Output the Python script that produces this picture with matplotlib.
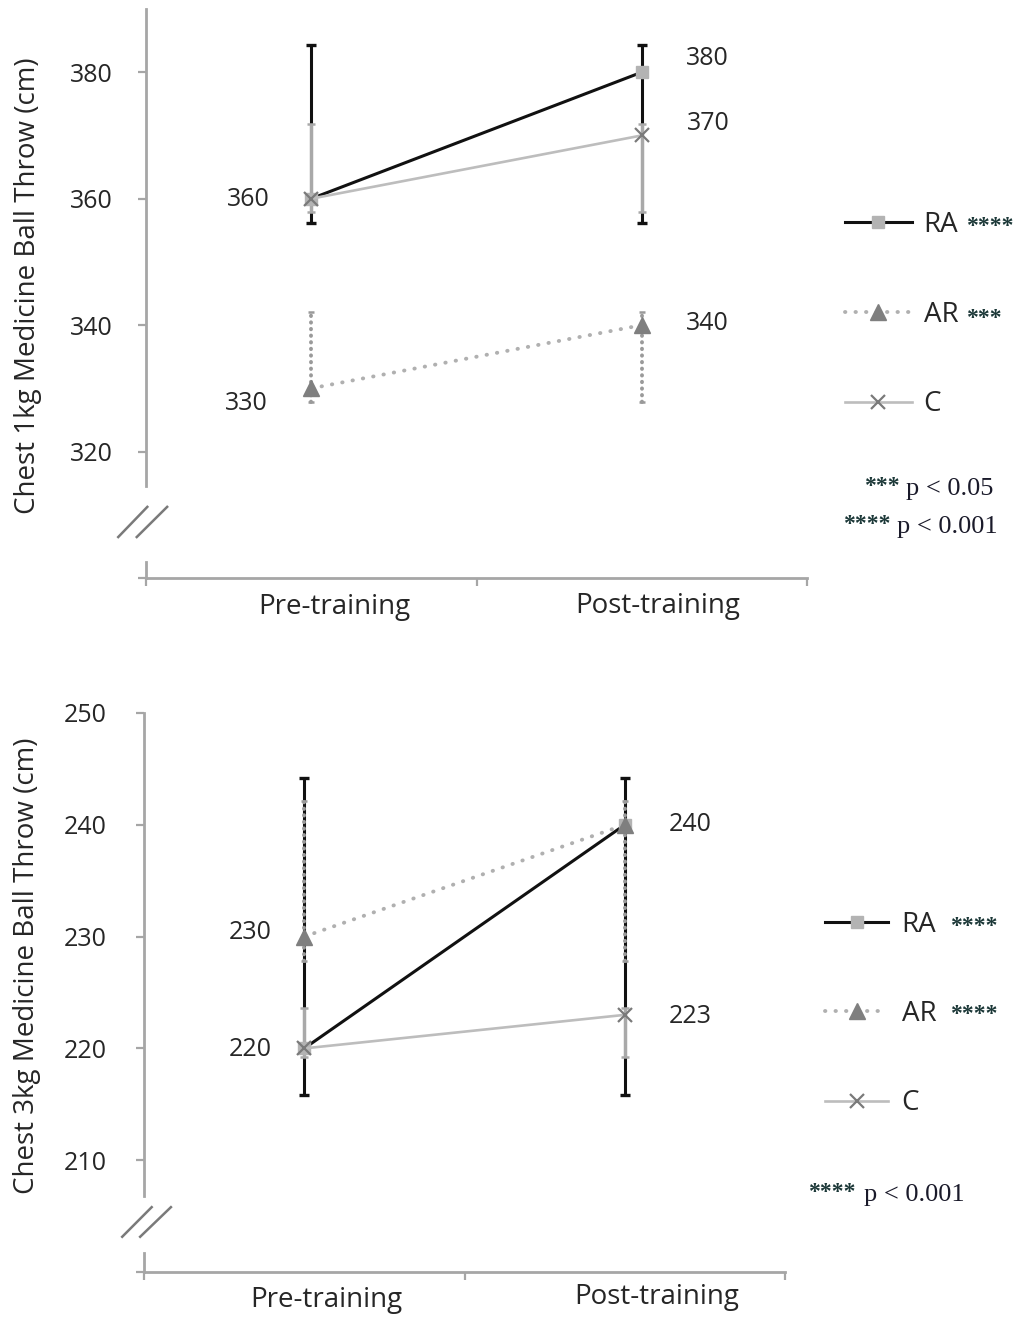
import numpy as np
import matplotlib
matplotlib.use('Agg')
import matplotlib.pyplot as plt

plt.rcParams['font.family'] = ['Open Sans', 'DejaVu Sans']

groups = ['Pre-training', 'Post-training']
series = ['RA', 'AR', 'C']

# chest 1kg
top_ra = [360, 380]
top_ar = [330, 340]
top_c = [360, 370]
top_ra_lo = [356.2, 356.2]
top_ra_hi = [384.3, 384.3]
top_ar_lo = [327.8, 327.8]
top_ar_hi = [342.1, 342.1]
top_c_lo = [357.9, 357.9]
top_c_hi = [371.8, 371.8]
top_yticks = [300, 320, 340, 360, 380]
top_yticklabels = ['', '320', '340', '360', '380']
top_labels = [(0, 360), (0, 330), (1, 380), (1, 370), (1, 340)]
top_stars = ['****', '***', '']

# chest 3kg
bot_ra = [220, 240]
bot_ar = [230, 240]
bot_c = [220, 223]
bot_ra_lo = [215.8, 215.8]
bot_ra_hi = [244.2, 244.2]
bot_ar_lo = [227.8, 227.8]
bot_ar_hi = [242.1, 242.1]
bot_c_lo = [219.2, 219.2]
bot_c_hi = [223.6, 223.6]
bot_yticks = [200, 210, 220, 230, 240, 250]
bot_yticklabels = ['', '210', '220', '230', '240', '250']
bot_labels = [(0, 230), (0, 220), (1, 240), (1, 223)]
bot_stars = ['****', '****', '']

W, H = 1018, 1317
AX_COL = '#a6a6a6'
TXT = '#262626'
STAR_COL = '#1c3838'
FS = 18
FS_BIG = 20
DOT = (0, (0.1, 2.6))

fig = plt.figure(figsize=(W / 100, H / 100), dpi=100)


def px_axes(l, t, r, b):
    return fig.add_axes([l / W, 1 - b / H, (r - l) / W, (b - t) / H])


def draw_panel(ax, ra, ar, c, ra_lo, ra_hi, ar_lo, ar_hi, c_lo, c_hi,
               ylim, yticks, yticklabels, break_top, break_bot,
               labels, label_off, ypad, slash, xlab_off):
    x = np.arange(len(groups))
    ra, ar, c = np.array(ra), np.array(ar), np.array(c)

    # error bars
    ax.errorbar(x, ra, yerr=[ra - np.array(ra_lo), np.array(ra_hi) - ra],
                fmt='none', ecolor='#111111', elinewidth=2.2, capsize=3.6,
                capthick=2.4, zorder=2)
    ax.errorbar(x, c, yerr=[c - np.array(c_lo), np.array(c_hi) - c],
                fmt='none', ecolor='#a9a9a9', elinewidth=2.4, capsize=2.8,
                capthick=1.8, zorder=3)
    e = ax.errorbar(x, ar, yerr=[ar - np.array(ar_lo), np.array(ar_hi) - ar],
                    fmt='none', ecolor='#9a9a9a', elinewidth=2.8, capsize=2.2,
                    capthick=1.8, zorder=3)
    e[2][0].set_linestyle((0, (0.1, 1.6)))
    e[2][0].set_capstyle('round')

    # lines
    ax.plot(x, ra, color='#111111', lw=2.2, zorder=4, label='RA',
            marker='s', ms=8, mfc='#b3b3b3', mec='#b3b3b3')
    ax.plot(x, ar, color='#b0b0b0', lw=2.8, ls=DOT,
            dash_capstyle='round', zorder=4, label='AR',
            marker='^', ms=11, mfc='#7f7f7f', mec='#7f7f7f')
    ax.plot(x, c, color='#bdbdbd', lw=1.9, zorder=4, label='C',
            marker='x', ms=10, mew=1.6, mec='#7a7a7a')

    for (i, v), (dx, dy) in zip(labels, label_off):
        ax.annotate(str(v), xy=(i, v), xytext=(dx, dy),
                    textcoords='offset pixels', ha='center', va='center',
                    fontsize=FS, color=TXT)

    ax.set_xlim(-0.5, 1.5)
    ax.set_ylim(*ylim)
    ax.set_yticks(yticks)
    ax.set_yticklabels(yticklabels)
    ax.set_xticks(x)
    ax.set_xticklabels([])
    for i, (g, (dx, dy)) in enumerate(zip(groups, xlab_off)):
        ax.annotate(g, xy=(i, 0), xycoords=('data', 'axes fraction'),
                    xytext=(dx, dy), textcoords='offset pixels',
                    ha='center', va='center', fontsize=FS_BIG, color=TXT)
    ax.set_xticks([-0.5, 0.5, 1.5], minor=True)
    ax.tick_params(axis='x', which='major', length=0)
    ax.tick_params(axis='x', which='minor', length=6, width=1.6,
                   color=AX_COL, direction='out')
    ax.tick_params(axis='y', length=6, width=1.6, color=AX_COL, pad=ypad,
                   labelsize=FS, labelcolor=TXT)
    for s in ['top', 'right']:
        ax.spines[s].set_visible(False)
    ax.spines['bottom'].set_color(AX_COL)
    ax.spines['bottom'].set_linewidth(2)
    ax.spines['left'].set_color(AX_COL)
    ax.spines['left'].set_linewidth(2)
    ax.spines['left'].set_bounds(break_top, ylim[1])
    ax.plot([-0.5, -0.5], [ylim[0], break_bot], color=AX_COL, lw=2,
            clip_on=False, zorder=1)
    # axis break marks
    for (x0, x1) in slash[0]:
        ax.plot([x0, x1], slash[1], transform=ax.transAxes, color='#7a7a7a',
                lw=1.8, clip_on=False)


ax1 = px_axes(146, 9, 807, 578)
draw_panel(ax1, top_ra, top_ar, top_c, top_ra_lo, top_ra_hi, top_ar_lo,
           top_ar_hi, top_c_lo, top_c_hi, (300, 390), top_yticks,
           top_yticklabels, 314.6, 302.5, top_labels,
           [(-63, -1), (-65, -15), (66, 14), (67, 12), (66, 2)], 18,
           ([(-0.042, 0.002), (-0.014, 0.032)], [0.072, 0.125]),
           [(23, -29), (16, -28)])
ax1.set_ylabel('Chest 1kg Medicine Ball Throw (cm)', fontsize=FS_BIG,
               color=TXT)
ax1.yaxis.set_label_coords(-0.158, 0.513)

ax2 = px_axes(144, 713, 785, 1272)
draw_panel(ax2, bot_ra, bot_ar, bot_c, bot_ra_lo, bot_ra_hi, bot_ar_lo,
           bot_ar_hi, bot_c_lo, bot_c_hi, (200, 250), bot_yticks,
           bot_yticklabels, 206.8, 201.7, bot_labels,
           [(-54, 4), (-54, -1), (65, 0), (65, -2)], 21,
           ([(-0.034, 0.012), (-0.006, 0.042)], [0.063, 0.116]),
           [(22, -28), (32, -25)])
ax2.set_ylabel('Chest 3kg Medicine Ball Throw (cm)', fontsize=FS_BIG,
               color=TXT)
ax2.yaxis.set_label_coords(-0.160, 0.547)

# legends
fig.legend(*ax1.get_legend_handles_labels(), loc='upper left',
           bbox_to_anchor=(845 / W, 1 - 211 / H), frameon=False,
           fontsize=FS_BIG, handlelength=2.41, handletextpad=0.42,
           labelspacing=2.22, borderpad=0, borderaxespad=0, numpoints=1,
           labelcolor=TXT)
fig.legend(*ax2.get_legend_handles_labels(), loc='upper left',
           bbox_to_anchor=(825 / W, 1 - 911 / H), frameon=False,
           fontsize=FS_BIG, handlelength=2.27, handletextpad=0.49,
           labelspacing=2.2, borderpad=0, borderaxespad=0, numpoints=1,
           labelcolor=TXT)

star_kw = dict(family='Liberation Serif', fontweight='bold', fontsize=17,
               color=STAR_COL, va='center', ha='left')
note_kw = dict(family='Liberation Serif', fontsize=19, color='#1a1a2a',
               va='baseline', ha='left')

for s, y in zip(top_stars, [221, 313, 402]):
    fig.text(966 / W, 1 - (y + 5) / H, s, **star_kw)
for s, y in zip(bot_stars, [921, 1010, 1097]):
    fig.text(950 / W, 1 - (y + 5) / H, s, **star_kw)

fig.text(864 / W, 1 - 486 / H, '***', **star_kw)
fig.text(906 / W, 1 - 495 / H, 'p < 0.05', **note_kw)
fig.text(843 / W, 1 - 524 / H, '****', **star_kw)
fig.text(897 / W, 1 - 533 / H, 'p < 0.001', **note_kw)
fig.text(808 / W, 1 - 1192 / H, '****', **star_kw)
fig.text(864 / W, 1 - 1201 / H, 'p < 0.001', **note_kw)

fig.savefig('out.png', dpi=100)
